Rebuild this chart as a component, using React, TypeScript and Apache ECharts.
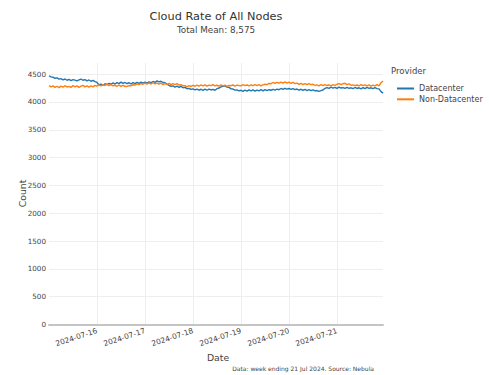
import React, { useEffect, useRef } from "react";
import * as echarts from "echarts";

const START = Date.UTC(2024, 6, 15, 0, 0, 0);
const END = Date.UTC(2024, 6, 21, 23, 0, 0);
const HOUR = 3600000;
const DAY = 86400000;

const seriesNames = ["Datacenter", "Non-Datacenter"];
const seriesColors = ["#1f77b4", "#ff7f0e"];

// hourly counts, 2024-07-15 00:00 .. 2024-07-21 23:00
const datacenter = [
  4468, 4450, 4445, 4425, 4432, 4410, 4418, 4398, 4412, 4390, 4405, 4385, 4400, 4392, 4378, 4398, 4410, 4390, 4402, 4380, 4395, 4372, 4388, 4365,
  4350, 4305, 4322, 4300, 4328, 4312, 4335, 4318, 4342, 4322, 4348, 4330, 4355, 4335, 4350, 4328, 4345, 4325, 4348, 4330, 4352, 4335, 4355, 4338,
  4358, 4340, 4362, 4345, 4368, 4350, 4378, 4360, 4372, 4350, 4345, 4318, 4298, 4282, 4290, 4265, 4285, 4262, 4280, 4255, 4262, 4238, 4245, 4225,
  4235, 4215, 4232, 4212, 4228, 4208, 4230, 4210, 4232, 4215, 4225, 4210, 4238, 4250, 4272, 4280, 4290, 4268, 4262, 4235, 4232, 4212, 4215, 4198,
  4210, 4192, 4212, 4195, 4215, 4198, 4218, 4195, 4212, 4200, 4220, 4198, 4222, 4205, 4220, 4210, 4225, 4212, 4230, 4220, 4242, 4225, 4245, 4230,
  4242, 4225, 4240, 4220, 4232, 4212, 4228, 4210, 4225, 4205, 4220, 4202, 4218, 4200, 4205, 4190, 4202, 4215, 4245, 4258, 4245, 4265, 4248, 4262,
  4245, 4268, 4250, 4258, 4242, 4262, 4245, 4255, 4238, 4260, 4242, 4255, 4235, 4258, 4240, 4262, 4245, 4255, 4238, 4258, 4240, 4235, 4185, 4158,
];

const nonDatacenter = [
  4292, 4270, 4288, 4262, 4282, 4258, 4285, 4265, 4292, 4268, 4280, 4260, 4295, 4270, 4288, 4262, 4285, 4298, 4272, 4288, 4265, 4290, 4272, 4298,
  4285, 4305, 4290, 4312, 4295, 4318, 4292, 4310, 4288, 4300, 4282, 4302, 4280, 4298, 4282, 4278, 4295, 4288, 4310, 4302, 4325, 4310, 4332, 4318,
  4338, 4320, 4342, 4322, 4345, 4325, 4340, 4320, 4338, 4312, 4330, 4315, 4335, 4310, 4328, 4312, 4330, 4305, 4310, 4290, 4292, 4272, 4292, 4278,
  4298, 4282, 4302, 4285, 4305, 4288, 4308, 4285, 4302, 4292, 4310, 4288, 4300, 4285, 4305, 4288, 4302, 4280, 4298, 4292, 4305, 4285, 4302, 4295,
  4290, 4310, 4292, 4305, 4288, 4308, 4292, 4312, 4295, 4310, 4290, 4308, 4318, 4312, 4332, 4328, 4350, 4332, 4352, 4340, 4358, 4338, 4360, 4340,
  4355, 4335, 4352, 4330, 4338, 4315, 4335, 4312, 4330, 4310, 4328, 4312, 4318, 4298, 4308, 4290, 4310, 4292, 4312, 4295, 4305, 4290, 4310, 4298,
  4318, 4330, 4312, 4328, 4335, 4310, 4325, 4300, 4308, 4292, 4305, 4288, 4310, 4292, 4308, 4290, 4305, 4285, 4302, 4288, 4310, 4290, 4345, 4378,
];

const titleText = "Cloud Rate of All Nodes";
const subtitleText = "Total Mean: 8,575";
const legendTitle = "Provider";
const xAxisTitle = "Date";
const yAxisTitle = "Count";
const sourceNote = "Data: week ending 21 Jul 2024. Source: Nebula";

const FONT = "DejaVu Sans, Verdana, sans-serif";
const TEXT = "#444";

function pad(n: number) {
  return n < 10 ? "0" + n : String(n);
}
function fmtDate(v: number) {
  const d = new Date(v);
  return d.getUTCFullYear() + "-" + pad(d.getUTCMonth() + 1) + "-" + pad(d.getUTCDate());
}

export default function App() {
  const ref = useRef<HTMLDivElement>(null);
  useEffect(() => {
    if (!ref.current) return;
    const chart = echarts.init(ref.current, undefined, { renderer: "svg" });
    const toPairs = (arr: number[]) => arr.map((v, i) => [START + i * HOUR, v]);
    chart.setOption({
      animation: false,
      backgroundColor: "#fff",
      textStyle: { fontFamily: FONT },
      grid: { left: 49, right: 106, top: 63, bottom: 50.5, containLabel: false },
      xAxis: {
        type: "value",
        min: START,
        max: END,
        interval: DAY,
        axisLine: { show: true, lineStyle: { color: "#c4c4c4", width: 2 } },
        axisTick: { show: false },
        splitLine: { show: true, showMinLine: false, showMaxLine: false, lineStyle: { color: "#eeeeee", width: 1 } },
        axisLabel: {
          showMinLabel: false,
          showMaxLabel: false,
          rotate: 18,
          margin: 6,
          fontSize: 7.5,
          color: TEXT,
          fontFamily: FONT,
          formatter: (v: number) => fmtDate(v),
        },
      },
      yAxis: {
        type: "value",
        min: 0,
        max: 4700,
        interval: 500,
        axisLine: { show: false },
        axisTick: { show: false },
        splitLine: { show: true, showMaxLine: false, lineStyle: { color: "#eeeeee", width: 1 } },
        axisLabel: {
          showMaxLabel: false,
          margin: 3,
          fontSize: 7.2,
          color: TEXT,
          fontFamily: FONT,
          formatter: (v: number) => String(v),
        },
      },
      legend: {
        show: true,
        orient: "vertical",
        left: 392,
        top: 78.5,
        itemWidth: 17,
        itemHeight: 2,
        itemGap: 0.8,
        icon: "rect",
        data: seriesNames,
        textStyle: { fontSize: 8, color: TEXT, fontFamily: FONT, lineHeight: 10 },
      },
      series: [
        {
          name: seriesNames[0],
          type: "line",
          data: toPairs(datacenter),
          showSymbol: false,
          symbol: "none",
          lineStyle: { color: seriesColors[0], width: 1.4 },
          itemStyle: { color: seriesColors[0] },
        },
        {
          name: seriesNames[1],
          type: "line",
          data: toPairs(nonDatacenter),
          showSymbol: false,
          symbol: "none",
          lineStyle: { color: seriesColors[1], width: 1.4 },
          itemStyle: { color: seriesColors[1] },
        },
      ],
      graphic: [
        {
          type: "text",
          x: 216,
          y: 16,
          style: { text: titleText, fontSize: 11.3, fontFamily: FONT, fill: "#333", align: "center", verticalAlign: "middle" },
        },
        {
          type: "text",
          x: 216,
          y: 30,
          style: { text: subtitleText, fontSize: 8.8, fontFamily: FONT, fill: TEXT, align: "center", verticalAlign: "middle" },
        },
        {
          type: "text",
          x: 391,
          y: 71,
          style: { text: legendTitle, fontSize: 8.5, fontFamily: FONT, fill: TEXT, align: "left", verticalAlign: "middle" },
        },
        {
          type: "text",
          x: 218,
          y: 357.5,
          style: { text: xAxisTitle, fontSize: 9.3, fontFamily: FONT, fill: TEXT, align: "center", verticalAlign: "middle" },
        },
        {
          type: "text",
          x: 22,
          y: 193.5,
          rotation: Math.PI / 2,
          style: { text: yAxisTitle, fontSize: 9.3, fontFamily: FONT, fill: TEXT, align: "center", verticalAlign: "middle" },
        },
        {
          type: "text",
          x: 374,
          y: 368,
          style: { text: sourceNote, fontSize: 6, fontFamily: FONT, fill: TEXT, align: "right", verticalAlign: "middle" },
        },
      ],
    });
    return () => chart.dispose();
  }, []);
  return <div ref={ref} style={{ position: "fixed", left: 0, top: 0, width: 489, height: 375 }} />;
}
